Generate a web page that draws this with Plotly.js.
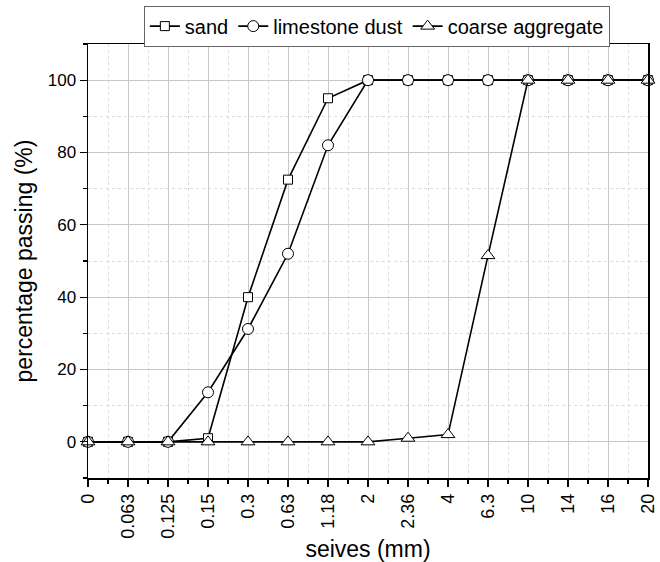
<!DOCTYPE html>
<html>
<head>
<meta charset="utf-8">
<script src="https://cdn.plot.ly/plotly-3.0.1.min.js"></script>
<style>html,body{margin:0;padding:0;background:#fff;}#chart{width:660px;height:562px;}</style>
</head>
<body>
<div id="chart"></div>
<script>
var sieves = ["0","0.063","0.125","0.15","0.3","0.63","1.18","2","2.36","4","6.3","10","14","16","20"];
var sand = [0,0,0,1,40,72.5,95,100,100,100,100,100,100,100,100];
var limestoneDust = [0,0,0,13.7,31.2,52,82,100,100,100,100,100,100,100,100];
var coarseAggregate = [0,0,0,0,0,0,0,0,1,2,51.5,100,100,100,100];

var pos = sieves.map(function(_, i){ return i; });

function tr(name, y, sym, size){
  return {
    x: pos, y: y, name: name, type: 'scatter', mode: 'lines+markers',
    line: {color: '#000', width: 1.6},
    marker: {symbol: sym, size: size, color: '#fff', line: {color: '#000', width: 1}},
    cliponaxis: false
  };
}

var data = [
  tr('sand', sand, 'square', 9),
  tr('limestone dust', limestoneDust, 'circle', 11),
  tr('coarse aggregate', coarseAggregate, 'triangle-up', 12)
];

var layout = {
  width: 660, height: 562,
  margin: {l: 88, r: 12, t: 44, b: 84, autoexpand: false},
  paper_bgcolor: '#fff', plot_bgcolor: '#fff',
  font: {family: 'Liberation Sans, Arial, sans-serif', color: '#000', size: 17},
  showlegend: true,
  legend: {
    orientation: 'h', xref: 'container', yref: 'container',
    x: 0.571, xanchor: 'center', y: 0.99, yanchor: 'top',
    bordercolor: '#666', borderwidth: 1, bgcolor: '#fff',
    font: {size: 20}, itemwidth: 30, tracegroupgap: 0
  },
  xaxis: {
    range: [0, 14], tickmode: 'array', tickvals: pos, ticktext: sieves,
    tickangle: -90, ticks: 'outside', ticklen: 7, tickwidth: 1.2, tickcolor: '#000',
    showline: true, linecolor: '#000', linewidth: 1.5, mirror: true,
    showgrid: true, gridcolor: '#c8c8c8', gridwidth: 1, zeroline: false,
    tickfont: {size: 18}, automargin: false,
    minor: {dtick: 0.5, tick0: 0, ticks: 'outside', ticklen: 4, tickcolor: '#000', showgrid: true, gridcolor: '#dcdcdc', griddash: 'dot'},
    title: {text: 'seives (mm)', font: {size: 23}, standoff: 4}
  },
  yaxis: {
    range: [-10, 110], tickmode: 'linear', tick0: 0, dtick: 20,
    ticks: 'outside', ticklen: 7, tickwidth: 1.2, tickcolor: '#000',
    showline: true, linecolor: '#000', linewidth: 1.5, mirror: true,
    showgrid: true, gridcolor: '#c8c8c8', gridwidth: 1, zeroline: false,
    tickfont: {size: 17}, automargin: false,
    minor: {dtick: 10, tick0: 0, ticks: 'outside', ticklen: 4, tickcolor: '#000', showgrid: true, gridcolor: '#dcdcdc', griddash: 'dot'},
    title: {text: 'percentage passing (%)', font: {size: 23}, standoff: 8}
  }
};

Plotly.newPlot('chart', data, layout, {displayModeBar: false, staticPlot: true});
</script>
</body>
</html>
